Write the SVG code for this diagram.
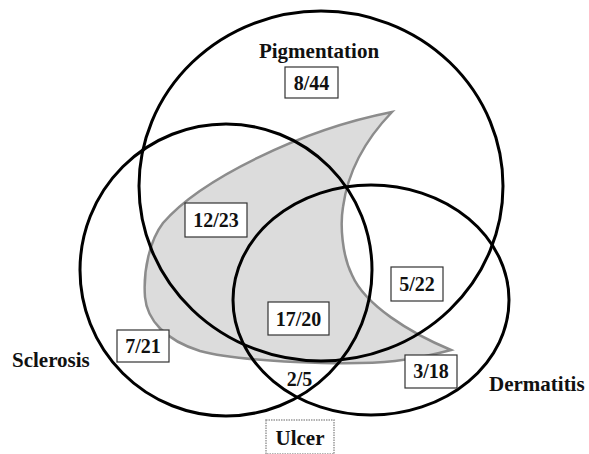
<svg xmlns="http://www.w3.org/2000/svg" width="589" height="454" viewBox="0 0 589 454">
<defs>
<style>
.set{fill:none;stroke:#000;stroke-width:3}
.blob{fill:#dcdcdc;stroke:#8c8c8c;stroke-width:2.5}
.box{fill:#fff;stroke:#333;stroke-width:1.2}
.ubox{fill:#fff;stroke:#999;stroke-width:1.5;stroke-dasharray:1.5 1}
.lab{font-family:"Liberation Serif","Times New Roman",serif;font-weight:bold;font-size:21px;fill:#111}
.num{font-family:"Liberation Serif","Times New Roman",serif;font-weight:bold;font-size:20px;fill:#111;text-anchor:middle}
</style>
</defs>
<rect width="589" height="454" fill="#fff"/>
<g id="ulcer-region">
<path class="blob" d="M392,112 C300,130 200,180 163,223 C150,240 143,270 145,297 C147,320 165,340 200,351 C240,362 350,366 395,361 C420,358 440,353 451,350 C410,333 365,305 352,275 C342,255 340,225 343,207 C348,170 365,140 392,112 Z"/>
</g>
<g id="pigmentation">
<ellipse class="set" cx="321" cy="186" rx="182" ry="175"/>
<text class="lab" x="319" y="58" text-anchor="middle">Pigmentation</text>
</g>
<g id="sclerosis">
<circle class="set" cx="226" cy="270" r="146"/>
<text class="lab" x="12" y="367">Sclerosis</text>
</g>
<g id="dermatitis">
<ellipse class="set" cx="371" cy="300" rx="138" ry="115"/>
<text class="lab" x="489" y="391">Dermatitis</text>
</g>
<g id="ulcer">
<rect class="ubox" x="266" y="420" width="68" height="34"/>
<text class="lab" x="300" y="445" text-anchor="middle" font-size="22">Ulcer</text>
</g>
<g id="counts">
<g id="c-8-44"><rect class="box" x="285" y="67" width="53" height="31"/><text class="num" x="311.5" y="90">8/44</text></g>
<g id="c-12-23"><rect class="box" x="185" y="203" width="62" height="34"/><text class="num" x="216" y="227">12/23</text></g>
<g id="c-17-20"><rect class="box" x="268" y="302" width="61" height="33"/><text class="num" x="298.5" y="326">17/20</text></g>
<g id="c-5-22"><rect class="box" x="391" y="267" width="52" height="34"/><text class="num" x="417" y="291">5/22</text></g>
<g id="c-7-21"><rect class="box" x="117" y="330" width="52" height="32"/><text class="num" x="143" y="353">7/21</text></g>
<g id="c-3-18"><rect class="box" x="405" y="355" width="52" height="33"/><text class="num" x="431" y="378">3/18</text></g>
<g id="c-2-5"><text class="num" x="299.5" y="386" font-size="19">2/5</text></g>
</g>
<g id="connectors"></g>
</svg>
